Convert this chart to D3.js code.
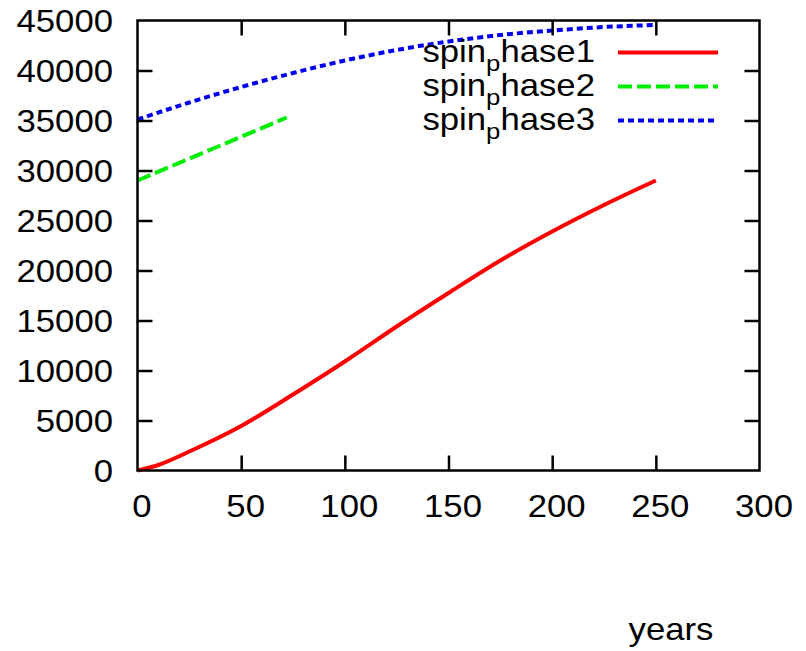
<!DOCTYPE html>
<html lang="en">
<head>
    <meta charset="UTF-8">
    <title>spin phase</title>
    <script src="https://d3js.org/d3.v7.min.js" charset="utf-8"></script>
    <style>
        body { margin: 0; background: #fff; }
        svg { background: #fff; }
        text { font-family: 'Liberation Sans', Arial, sans-serif; fill: #000; }
    </style>
</head>
<body>
    <div id="chart"></div>
    <script>

    // data
    var years1 = [0, 10, 25, 50, 75, 100, 125, 150, 175, 200, 225, 250];
    var phase1 = [0, 550, 1900, 4450, 7600, 10900, 14400, 17750, 21000, 23900, 26550, 29000];

    var years2 = [0, 36, 72];
    var phase2 = [29000, 32150, 35300];

    var years3 = [0, 25, 50, 75, 100, 125, 150, 175, 200, 225, 250];
    var phase3 = [35100, 36800, 38350, 39750, 41000, 42050, 42900, 43550, 44000, 44350, 44550];

    var seriesNames = ['phase1', 'phase2', 'phase3'];
    var xTicks = [0, 50, 100, 150, 200, 250, 300];
    var yTicks = [0, 5000, 10000, 15000, 20000, 25000, 30000, 35000, 40000, 45000];

    var svgWidth = 806;
    var svgHeight = 651;
    var stretch = 1.12; // text in the picture is a bit wide

    var svg = d3.select('#chart')
                .append('svg')
                .attr('width', svgWidth)
                .attr('height', svgHeight);

    var plotLeft = 137.5, plotRight = 759.5, plotTop = 20.5, plotBottom = 470.5;

    var x_scale = d3.scaleLinear().domain([0, 300]).range([plotLeft, plotRight]);
    var y_scale = d3.scaleLinear().domain([0, 45000]).range([plotBottom, plotTop]);

    var series = [
        {name: seriesNames[0], xs: years1, ys: phase1, color: '#ff0000', dash: null, width: 4},
        {name: seriesNames[1], xs: years2, ys: phase2, color: '#00ee00', dash: '14,5', width: 4},
        {name: seriesNames[2], xs: years3, ys: phase3, color: '#0000ee', dash: '6,4', width: 4}
    ];

    var line = d3.line()
        .x(d => x_scale(d[0]))
        .y(d => y_scale(d[1]))
        .curve(d3.curveMonotoneX);

    // curves
    series.forEach(function(s) {
        svg.append('path')
            .datum(s.xs.map((v, i) => [v, s.ys[i]]))
            .attr('d', line)
            .attr('fill', 'none')
            .attr('stroke', s.color)
            .attr('stroke-width', s.width)
            .attr('stroke-dasharray', s.dash);
    });

    // axes with inward ticks on all four sides
    function styleAxis(g) {
        g.select('.domain').remove();
        g.selectAll('.tick line').attr('stroke', '#000').attr('stroke-width', 2.5);
    }

    var xAxis = svg.append('g')
        .attr('transform', 'translate(0,' + plotBottom + ')')
        .call(d3.axisBottom(x_scale).tickValues(xTicks).tickSizeInner(-15).tickSizeOuter(0).tickFormat(d3.format('d')))
        .call(styleAxis);
    xAxis.selectAll('.tick line').filter(d => d === 0 || d === 300).remove();
    xAxis.selectAll('.tick text')
        .attr('y', null).attr('dy', null)
        .attr('transform', 'translate(4,46.5) scale(' + stretch + ',1)')
        .style('font-size', '31px')
        .attr('text-anchor', 'middle');

    var yAxis = svg.append('g')
        .attr('transform', 'translate(' + plotLeft + ',0)')
        .call(d3.axisLeft(y_scale).tickValues(yTicks).tickSizeInner(-15).tickSizeOuter(0).tickFormat(d3.format('d')))
        .call(styleAxis);
    yAxis.selectAll('.tick line').filter(d => d === 0 || d === 45000).remove();
    yAxis.selectAll('.tick text')
        .attr('x', null).attr('dy', null)
        .attr('transform', 'translate(-24.5,11) scale(' + stretch + ',1)')
        .style('font-size', '31px')
        .attr('text-anchor', 'end');

    var topAxis = svg.append('g')
        .attr('transform', 'translate(0,' + plotTop + ')')
        .call(d3.axisTop(x_scale).tickValues(xTicks).tickSizeInner(-15).tickSizeOuter(0).tickFormat(''))
        .call(styleAxis);
    topAxis.selectAll('.tick line').filter(d => d === 0 || d === 300).remove();

    var rightAxis = svg.append('g')
        .attr('transform', 'translate(' + plotRight + ',0)')
        .call(d3.axisRight(y_scale).tickValues(yTicks).tickSizeInner(-15).tickSizeOuter(0).tickFormat(''))
        .call(styleAxis);
    rightAxis.selectAll('.tick line').filter(d => d === 0 || d === 45000).remove();

    // frame
    svg.append('rect')
        .attr('x', plotLeft).attr('y', plotTop)
        .attr('width', plotRight - plotLeft).attr('height', plotBottom - plotTop)
        .attr('fill', 'none')
        .attr('stroke', '#000')
        .attr('stroke-width', 2.5);

    // legend
    var legend = svg.append('g').attr('class', 'legend');
    series.forEach(function(s, i) {
        var ly = 52.5 + i * 34;
        var t = legend.append('text')
            .attr('transform', 'translate(595,' + (ly + 9) + ') scale(' + stretch + ',1)')
            .attr('text-anchor', 'end')
            .style('font-size', '31px');
        t.append('tspan').text('spin');
        t.append('tspan').text('p').attr('dy', 9).style('font-size', '23px');
        t.append('tspan').text('hase' + (i + 1)).attr('dy', -9);

        legend.append('line')
            .attr('x1', 618).attr('x2', 718)
            .attr('y1', ly).attr('y2', ly)
            .attr('stroke', s.color)
            .attr('stroke-width', s.width)
            .attr('stroke-dasharray', s.dash);
    });

    // x axis title
    svg.append('text')
        .attr('transform', 'translate(671,640) scale(' + stretch + ',1)')
        .attr('text-anchor', 'middle')
        .style('font-size', '31px')
        .text('years');

    </script>
</body>
</html>
